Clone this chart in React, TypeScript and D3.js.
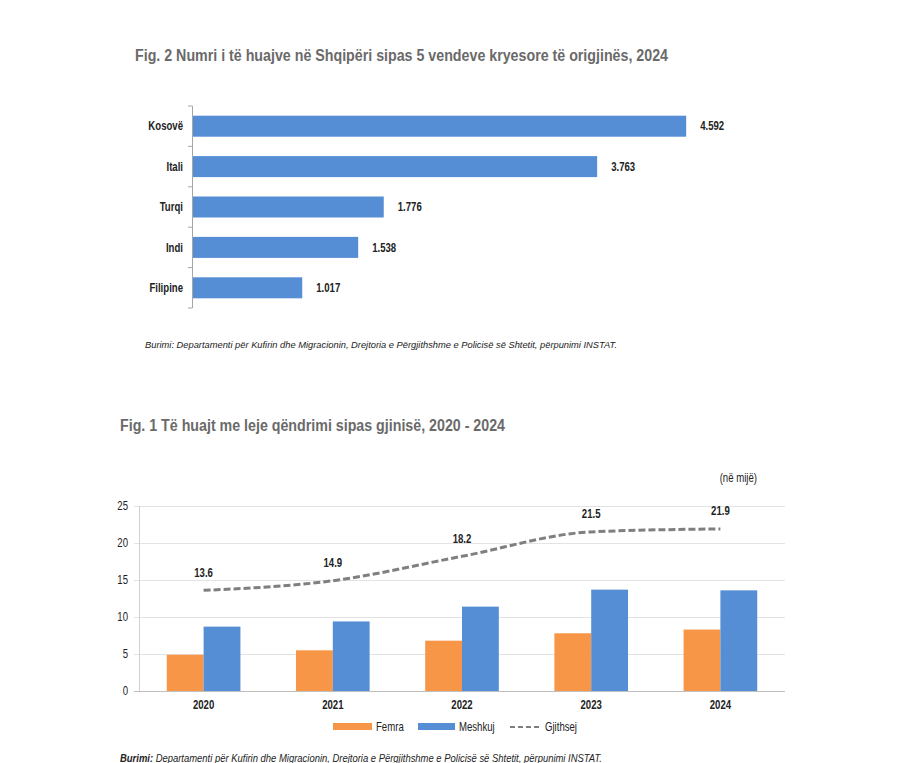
import React from 'react';
import * as d3 from 'd3';

// Fig. 2 - top 5 countries of origin, 2024
const countries = ['Kosovë', 'Itali', 'Turqi', 'Indi', 'Filipine'];
const countryValues = [4592, 3763, 1776, 1538, 1017];

// Fig. 1 - residence permits by gender, 2020 - 2024 (thousands)
const years = ['2020', '2021', '2022', '2023', '2024'];
const femra = [4.9, 5.5, 6.8, 7.8, 8.3];
const meshkuj = [8.7, 9.4, 11.4, 13.7, 13.6];
const gjithsej = [13.6, 14.9, 18.2, 21.5, 21.9];
const yTicks = [0, 5, 10, 15, 20, 25];

const BLUE = '#558ed5';
const ORANGE = '#f79646';
const GRAY_LINE = '#7f7f7f';
const TITLE_GRAY = '#6a6a6a';
const SANS = "'Liberation Sans', Arial, sans-serif";

// no narrow font installed, so squeeze Liberation Sans horizontally
const Narrow: React.FC<{
  x: number; y: number; anchor?: 'start' | 'middle' | 'end';
  bold?: boolean; size?: number; children: React.ReactNode;
}> = ({ x, y, anchor = 'start', bold = false, size = 12, children }) => (
  <g transform={`translate(${x},${y}) scale(0.8,1)`}>
    <text x={0} y={0} dy="0.35em" textAnchor={anchor} fontFamily={SANS}
      fontWeight={bold ? 'bold' : 'normal'} fontSize={size} fill="#222">
      {children}
    </text>
  </g>
);

const fmtDot = (v: number) => d3.format(',')(v).replace(',', '.');

const App: React.FC = () => {
  // top bar chart scales
  const yBand = d3.scaleBand<string>()
    .domain(countries)
    .range([106, 308])
    .paddingInner(0.48)
    .paddingOuter(0.24);
  const xTop = d3.scaleLinear().domain([0, 5000]).range([193, 730]);
  const tickYs = d3.range(countries.length + 1).map(i => 106 + i * yBand.step());

  // bottom combo chart scales
  const xYear = d3.scaleBand<string>()
    .domain(years)
    .range([139, 785])
    .paddingInner(0.43)
    .paddingOuter(0.215);
  const xSub = d3.scaleBand<string>()
    .domain(['Femra', 'Meshkuj'])
    .range([0, xYear.bandwidth()]);
  const yVal = d3.scaleLinear().domain([0, 25]).range([691, 506]);
  const center = (y: string) => (xYear(y) || 0) + xYear.bandwidth() / 2;

  const line = d3.line<number>()
    .x((_, i) => center(years[i]))
    .y(d => yVal(d))
    .curve(d3.curveMonotoneX);

  return (
    <div>
      <style>{'body{margin:0;}'}</style>
      <svg width={900} height={763} style={{ display: 'block', background: '#fff' }}>
        {/* ---------- Fig. 2 ---------- */}
        <text x={135} y={61} fontFamily={SANS} fontWeight="bold" fontSize={16}
          fill={TITLE_GRAY} textLength={533} lengthAdjust="spacingAndGlyphs">
          Fig. 2 Numri i të huajve në Shqipëri sipas 5 vendeve kryesore të origjinës, 2024
        </text>

        <line x1={192.5} x2={192.5} y1={106} y2={308} stroke="#a6a6a6" />
        {tickYs.map((t, i) => (
          <line key={i} x1={188} x2={192.5} y1={t} y2={t} stroke="#a6a6a6" />
        ))}

        {countries.map((c, i) => {
          const y = yBand(c) || 0;
          const w = xTop(countryValues[i]) - xTop(0);
          const mid = y + yBand.bandwidth() / 2;
          return (
            <g key={c}>
              <rect x={xTop(0)} y={y} width={w} height={yBand.bandwidth()} fill={BLUE} />
              <Narrow x={183} y={mid} anchor="end" bold>{c}</Narrow>
              <Narrow x={xTop(countryValues[i]) + 14} y={mid} bold>{fmtDot(countryValues[i])}</Narrow>
            </g>
          );
        })}

        <text x={145} y={348} fontFamily={SANS} fontStyle="italic" fontSize={9} fill="#222"
          textLength={472} lengthAdjust="spacingAndGlyphs">
          Burimi: Departamenti për Kufirin dhe Migracionin, Drejtoria e Përgjithshme e Policisë së Shtetit, përpunimi INSTAT.
        </text>

        {/* ---------- Fig. 1 ---------- */}
        <text x={120} y={431} fontFamily={SANS} fontWeight="bold" fontSize={16}
          fill={TITLE_GRAY} textLength={385} lengthAdjust="spacingAndGlyphs">
          Fig. 1 Të huajt me leje qëndrimi sipas gjinisë, 2020 - 2024
        </text>

        <Narrow x={757} y={478} anchor="end">(në mijë)</Narrow>

        {yTicks.map(t => (
          <g key={t}>
            <line x1={134} x2={785} y1={yVal(t) + 0.5} y2={yVal(t) + 0.5}
              stroke={t === 0 ? '#bfbfbf' : '#e3e3e3'} />
            <Narrow x={128} y={yVal(t)} anchor="end">{t}</Narrow>
          </g>
        ))}
        <line x1={139.5} x2={139.5} y1={yVal(25)} y2={yVal(0)} stroke="#d0d0d0" />

        {years.map((yr, i) => {
          const x0 = xYear(yr) || 0;
          return (
            <g key={yr}>
              <rect x={x0 + (xSub('Femra') || 0)} y={yVal(femra[i])} width={xSub.bandwidth()}
                height={yVal(0) - yVal(femra[i])} fill={ORANGE} />
              <rect x={x0 + (xSub('Meshkuj') || 0)} y={yVal(meshkuj[i])} width={xSub.bandwidth()}
                height={yVal(0) - yVal(meshkuj[i])} fill={BLUE} />
              <Narrow x={center(yr)} y={705} anchor="middle" bold>{yr}</Narrow>
              <Narrow x={center(yr)} y={yVal(gjithsej[i]) - 18} anchor="middle" bold>
                {gjithsej[i].toFixed(1)}
              </Narrow>
            </g>
          );
        })}

        <path d={line(gjithsej) || ''} fill="none" stroke={GRAY_LINE} strokeWidth={3}
          strokeDasharray="7,3" />

        {/* legend */}
        <rect x={333} y={723} width={39} height={7} fill={ORANGE} />
        <Narrow x={376} y={727}>Femra</Narrow>
        <rect x={418} y={723} width={37} height={7} fill={BLUE} />
        <Narrow x={459} y={727}>Meshkuj</Narrow>
        <line x1={510} x2={541} y1={727} y2={727} stroke={GRAY_LINE} strokeWidth={2}
          strokeDasharray="5,3" />
        <Narrow x={545} y={727}>Gjithsej</Narrow>

        <text x={120} y={762} fontFamily={SANS} fontStyle="italic" fontSize={10} fill="#222"
          textLength={482} lengthAdjust="spacingAndGlyphs">
          <tspan fontWeight="bold">Burimi:</tspan> Departamenti për Kufirin dhe Migracionin, Drejtoria e Përgjithshme e Policisë së Shtetit, përpunimi INSTAT.
        </text>
      </svg>
    </div>
  );
};

export default App;
